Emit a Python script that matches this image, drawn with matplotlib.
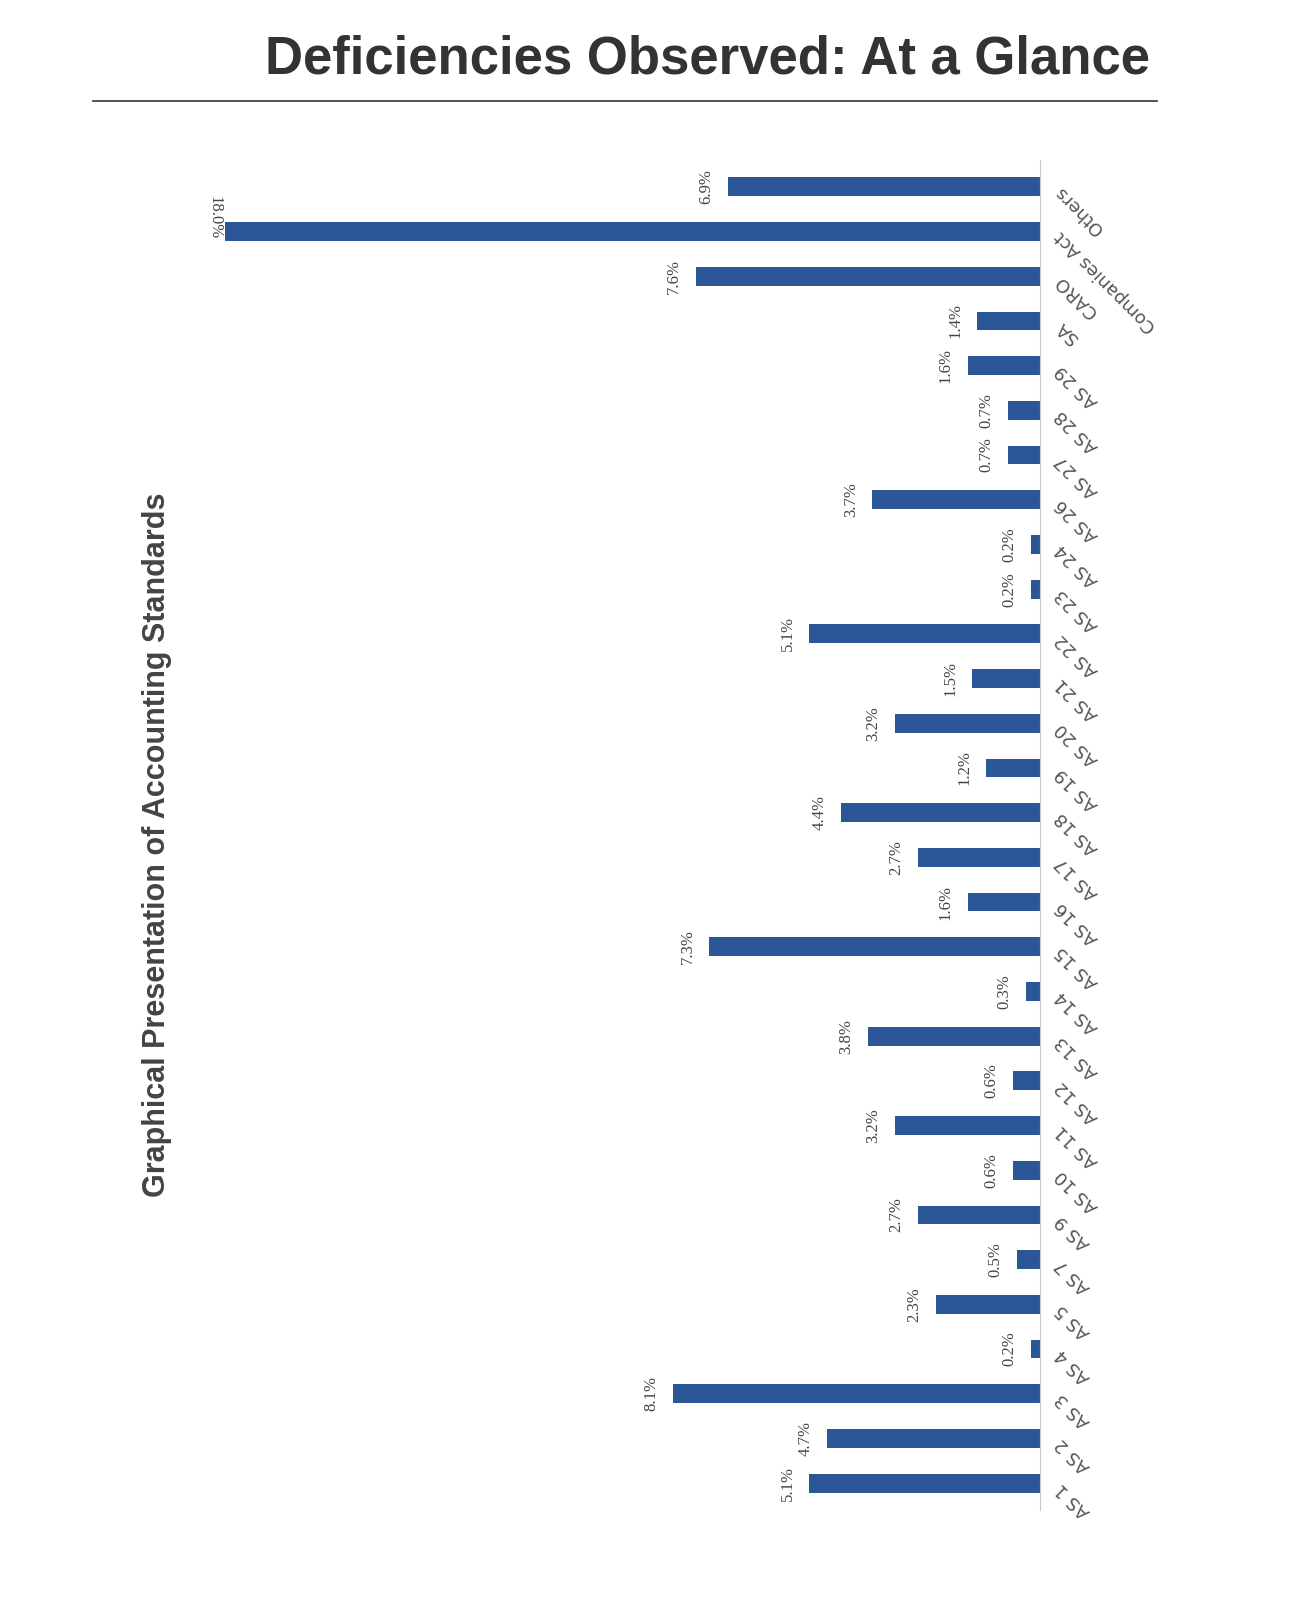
import matplotlib.pyplot as plt

categories = ['AS 1', 'AS 2', 'AS 3', 'AS 4', 'AS 5', 'AS 7', 'AS 9', 'AS 10', 'AS 11', 'AS 12',
              'AS 13', 'AS 14', 'AS 15', 'AS 16', 'AS 17', 'AS 18', 'AS 19', 'AS 20', 'AS 21', 'AS 22',
              'AS 23', 'AS 24', 'AS 26', 'AS 27', 'AS 28', 'AS 29', 'SA', 'CARO', 'Companies Act', 'Others']
values = [5.1, 4.7, 8.1, 0.2, 2.3, 0.5, 2.7, 0.6, 3.2, 0.6,
          3.8, 0.3, 7.3, 1.6, 2.7, 4.4, 1.2, 3.2, 1.5, 5.1,
          0.2, 0.2, 3.7, 0.7, 0.7, 1.6, 1.4, 7.6, 18.0, 6.9]

fig = plt.figure(figsize=(12.94, 16), dpi=100)
ax = fig.add_axes([200/1294, 1 - 1510/1600, 840/1294, 1350/1600])

ys = list(range(len(categories)))
ax.barh(ys, values, height=0.42, color='#2b5797')
ax.set_xlim(18.55, 0)
ax.set_ylim(-0.6, len(categories) - 0.4)

for y, v in zip(ys, values):
    if v >= 15:
        ax.text(v + 0.05, y + 0.3, '%.1f%%' % v, rotation=270, ha='right', va='center',
                fontsize=12, color='#444444', family='Liberation Serif')
    else:
        ax.text(v + 0.3, y, '%.1f%%' % v, rotation=90, ha='right', va='center',
                fontsize=12, color='#444444', family='Liberation Serif')

ax.set_yticks(ys)
ax.set_yticklabels([])
for y, c in zip(ys, categories):
    ax.text(-0.4, y - 0.05, c, rotation=135, rotation_mode='anchor', ha='right', va='center',
            fontsize=13, color='#555555', transform=ax.transData, clip_on=False)
ax.tick_params(left=False, right=False, bottom=False, labelbottom=False)
ax.set_xticks([])
for s in ['top', 'bottom', 'left']:
    ax.spines[s].set_visible(False)
ax.spines['right'].set_color('#c8c8c8')

fig.text(1150/1294, 1 - 60/1600, 'Deficiencies Observed: At a Glance', ha='right', va='center',
         fontsize=38, fontweight='bold', color='#333333', family='Liberation Sans')
fig.add_artist(plt.Line2D([93/1294, 1157/1294], [1 - 101/1600, 1 - 101/1600], color='#333333', lw=1.2))
fig.text(157/1294, 1 - 845/1600, 'Graphical Presentation of Accounting Standards', rotation=90,
         ha='center', va='center', fontsize=22, fontweight='bold', color='#444444',
         family='Liberation Sans')

fig.savefig('out.png', dpi=100)
